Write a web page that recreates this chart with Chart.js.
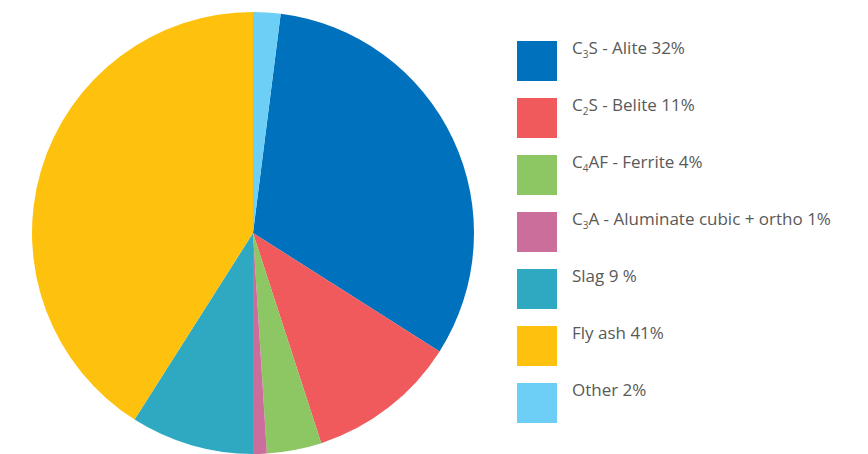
<!DOCTYPE html>
<html lang="en">
<head>
    <meta charset="UTF-8">
    <title>Cement composition</title>
    <script src="https://cdn.jsdelivr.net/npm/chart.js"></script>
    <style>
        body { margin: 0; background: #fff; }
        .wrap { position: relative; width: 868px; height: 454px; }
        .pieBox { position: absolute; left: 0; top: 0; width: 506px; height: 454px; }
        .legend { position: absolute; left: 517px; top: 0; font-family: "Open Sans", sans-serif; font-size: 17px; color: #595959; }
        .legend .item { position: absolute; left: 0; white-space: nowrap; }
        .legend .box { position: absolute; left: 0; top: 4px; width: 40px; height: 40px; }
        .legend .txt { position: absolute; left: 55px; top: 0; line-height: 22px; }
        .legend sub { font-size: 10px; vertical-align: -4px; line-height: 0; }
    </style>
</head>
<body>
<div class="wrap">
    <div class="pieBox"><canvas id="pieChart"></canvas></div>
    <div class="legend" id="legend"></div>
</div>
<script>
    // segment names (legend text, subscripts marked with <sub>)
    var labels = [
        'C<sub>3</sub>S - Alite 32%',
        'C<sub>2</sub>S - Belite 11%',
        'C<sub>4</sub>AF - Ferrite 4%',
        'C<sub>3</sub>A - Aluminate cubic + ortho 1%',
        'Slag 9 %',
        'Fly ash 41%',
        'Other 2%'
    ];
    var values = [32, 11, 4, 1, 9, 41, 2];
    var colors = ['#0071bc', '#f05a5c', '#8cc763', '#cb6e9c', '#2fa8c1', '#fec20e', '#6ecff6'];

    var ctx = document.getElementById('pieChart').getContext('2d');
    var pie = new Chart(ctx, {
        type: 'pie',
        data: {
            labels: labels.map(function (l) { return l.replace(/<\/?sub>/g, ''); }),
            datasets: [{
                data: values,
                backgroundColor: colors,
                borderWidth: 0
            }]
        },
        options: {
            responsive: true,
            maintainAspectRatio: false,
            animation: false,
            rotation: 7.2,
            layout: { padding: { top: 12, bottom: 0 } },
            plugins: {
                legend: { display: false },
                tooltip: { enabled: false }
            }
        }
    });

    // html legend so the chemical formulas can have subscripts
    var legend = document.getElementById('legend');
    labels.forEach(function (label, i) {
        var item = document.createElement('div');
        item.className = 'item';
        item.style.top = (37 + i * 57) + 'px';
        item.innerHTML = '<div class="box" style="background:' + colors[i] + '"></div><div class="txt">' + label + '</div>';
        legend.appendChild(item);
    });
</script>
</body>
</html>
